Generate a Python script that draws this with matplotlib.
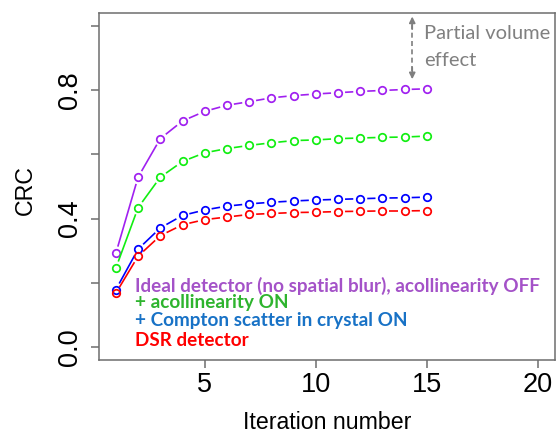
import numpy as np
import matplotlib.pyplot as plt
from matplotlib.collections import LineCollection

# CRC vs iteration number
iterations = np.arange(1, 16)
crc_ideal = [0.292, 0.529, 0.649, 0.704, 0.734, 0.753, 0.764, 0.776, 0.783,
             0.788, 0.792, 0.796, 0.799, 0.802, 0.804]
crc_acoll = [0.246, 0.434, 0.529, 0.578, 0.605, 0.618, 0.628, 0.636, 0.643,
             0.645, 0.649, 0.651, 0.653, 0.654, 0.657]
crc_compton = [0.179, 0.305, 0.371, 0.410, 0.427, 0.439, 0.446, 0.451, 0.455,
               0.458, 0.460, 0.462, 0.464, 0.465, 0.467]
crc_dsr = [0.168, 0.283, 0.347, 0.381, 0.397, 0.405, 0.413, 0.416, 0.419,
           0.420, 0.422, 0.423, 0.424, 0.424, 0.425]

series = [crc_ideal, crc_acoll, crc_compton, crc_dsr]
line_colors = ['#A020F0', '#11EE11', '#0000FF', '#FF0000']

labels = ["Ideal detector (no spatial blur), acollinearity OFF",
          "+ acollinearity ON",
          "+ Compton scatter in crystal ON",
          "DSR detector"]
label_colors = ['#A452C8', '#2EB42E', '#1872C6', '#FF0000']

x_ticks = [5, 10, 15, 20]
y_ticks = [0.0, 0.2, 0.4, 0.6, 0.8, 1.0]
y_ticklabels = ['0.0', '', '0.4', '', '0.8', '']

axis_gray = '#6E6E6E'


def gapped_segments(ax, x, y, gap_px):
    """R type='b' style: segments between points, shortened near the points."""
    pts = ax.transData.transform(np.column_stack([x, y]))
    inv = ax.transData.inverted()
    segs = []
    for p0, p1 in zip(pts[:-1], pts[1:]):
        d = p1 - p0
        length = np.hypot(d[0], d[1])
        if length <= 2 * gap_px:
            continue
        u = d / length
        segs.append(inv.transform(np.array([p0 + u * gap_px, p1 - u * gap_px])))
    return segs


fig = plt.figure(figsize=(5.56, 4.34), dpi=100)
ax = fig.add_axes([0.178, 0.1705, 0.820, 0.7995])
ax.set_xlim(0.24, 20.76)
ax.set_ylim(-0.04, 1.04)

for vals, col in zip(series, line_colors):
    lc = LineCollection(gapped_segments(ax, iterations, vals, 7.0),
                        colors=col, linewidths=1.2)
    ax.add_collection(lc)
    ax.plot(iterations, vals, linestyle='none', marker='o', markersize=5.4,
            markerfacecolor='none', markeredgecolor=col, markeredgewidth=1.25)

# overlay labels
text_y = [0.173, 0.123, 0.0657, 0.0034]
for lab, col, ty in zip(labels, label_colors, text_y):
    ax.text(1.86, ty, lab, color=col, fontsize=13.6, fontweight='bold',
            family='Lato', va='baseline', ha='left')

# partial volume effect annotation
ax.plot([14.34, 14.34], [0.86, 1.005], color='#7F7F7F', lw=1.2,
        linestyle=(0, (3, 2)))
for y_from, y_to in [(0.99, 1.029), (0.87, 0.834)]:
    ax.annotate('', xy=(14.34, y_to), xytext=(14.34, y_from),
                arrowprops=dict(arrowstyle='-|>', color='#7F7F7F', lw=1.2,
                                mutation_scale=9, shrinkA=0, shrinkB=0))
ax.text(14.89, 0.958, "Partial volume", color='#808080', fontsize=14.5,
        family='Lato', va='baseline', ha='left')
ax.text(14.89, 0.875, "effect", color='#808080', fontsize=14.5,
        family='Lato', va='baseline', ha='left')

# axes styling (R base graphics look)
for sp in ax.spines.values():
    sp.set_color(axis_gray)
    sp.set_linewidth(1.1)
ax.set_xticks(x_ticks)
ax.set_xticklabels([str(t) for t in x_ticks], fontsize=19.5,
                   family='Liberation Sans')
ax.set_yticks(y_ticks)
ax.set_yticklabels(y_ticklabels, fontsize=19.5, family='Liberation Sans',
                   rotation=90, va='center')
ax.tick_params(axis='both', length=5.8, width=1.1, color=axis_gray)
ax.tick_params(axis='x', pad=3)
ax.tick_params(axis='y', pad=6)

ax.set_xlabel("Iteration number", fontsize=16.7, family='Liberation Sans')
ax.xaxis.set_label_coords(0.5, -0.2)
ax.xaxis.label.set_va('baseline')
ax.set_ylabel("CRC", fontsize=16.7, family='Liberation Sans')
ax.yaxis.set_label_coords(-0.162, 0.49)
ax.yaxis.label.set_va('center')

fig.savefig('out.png', dpi=100)
